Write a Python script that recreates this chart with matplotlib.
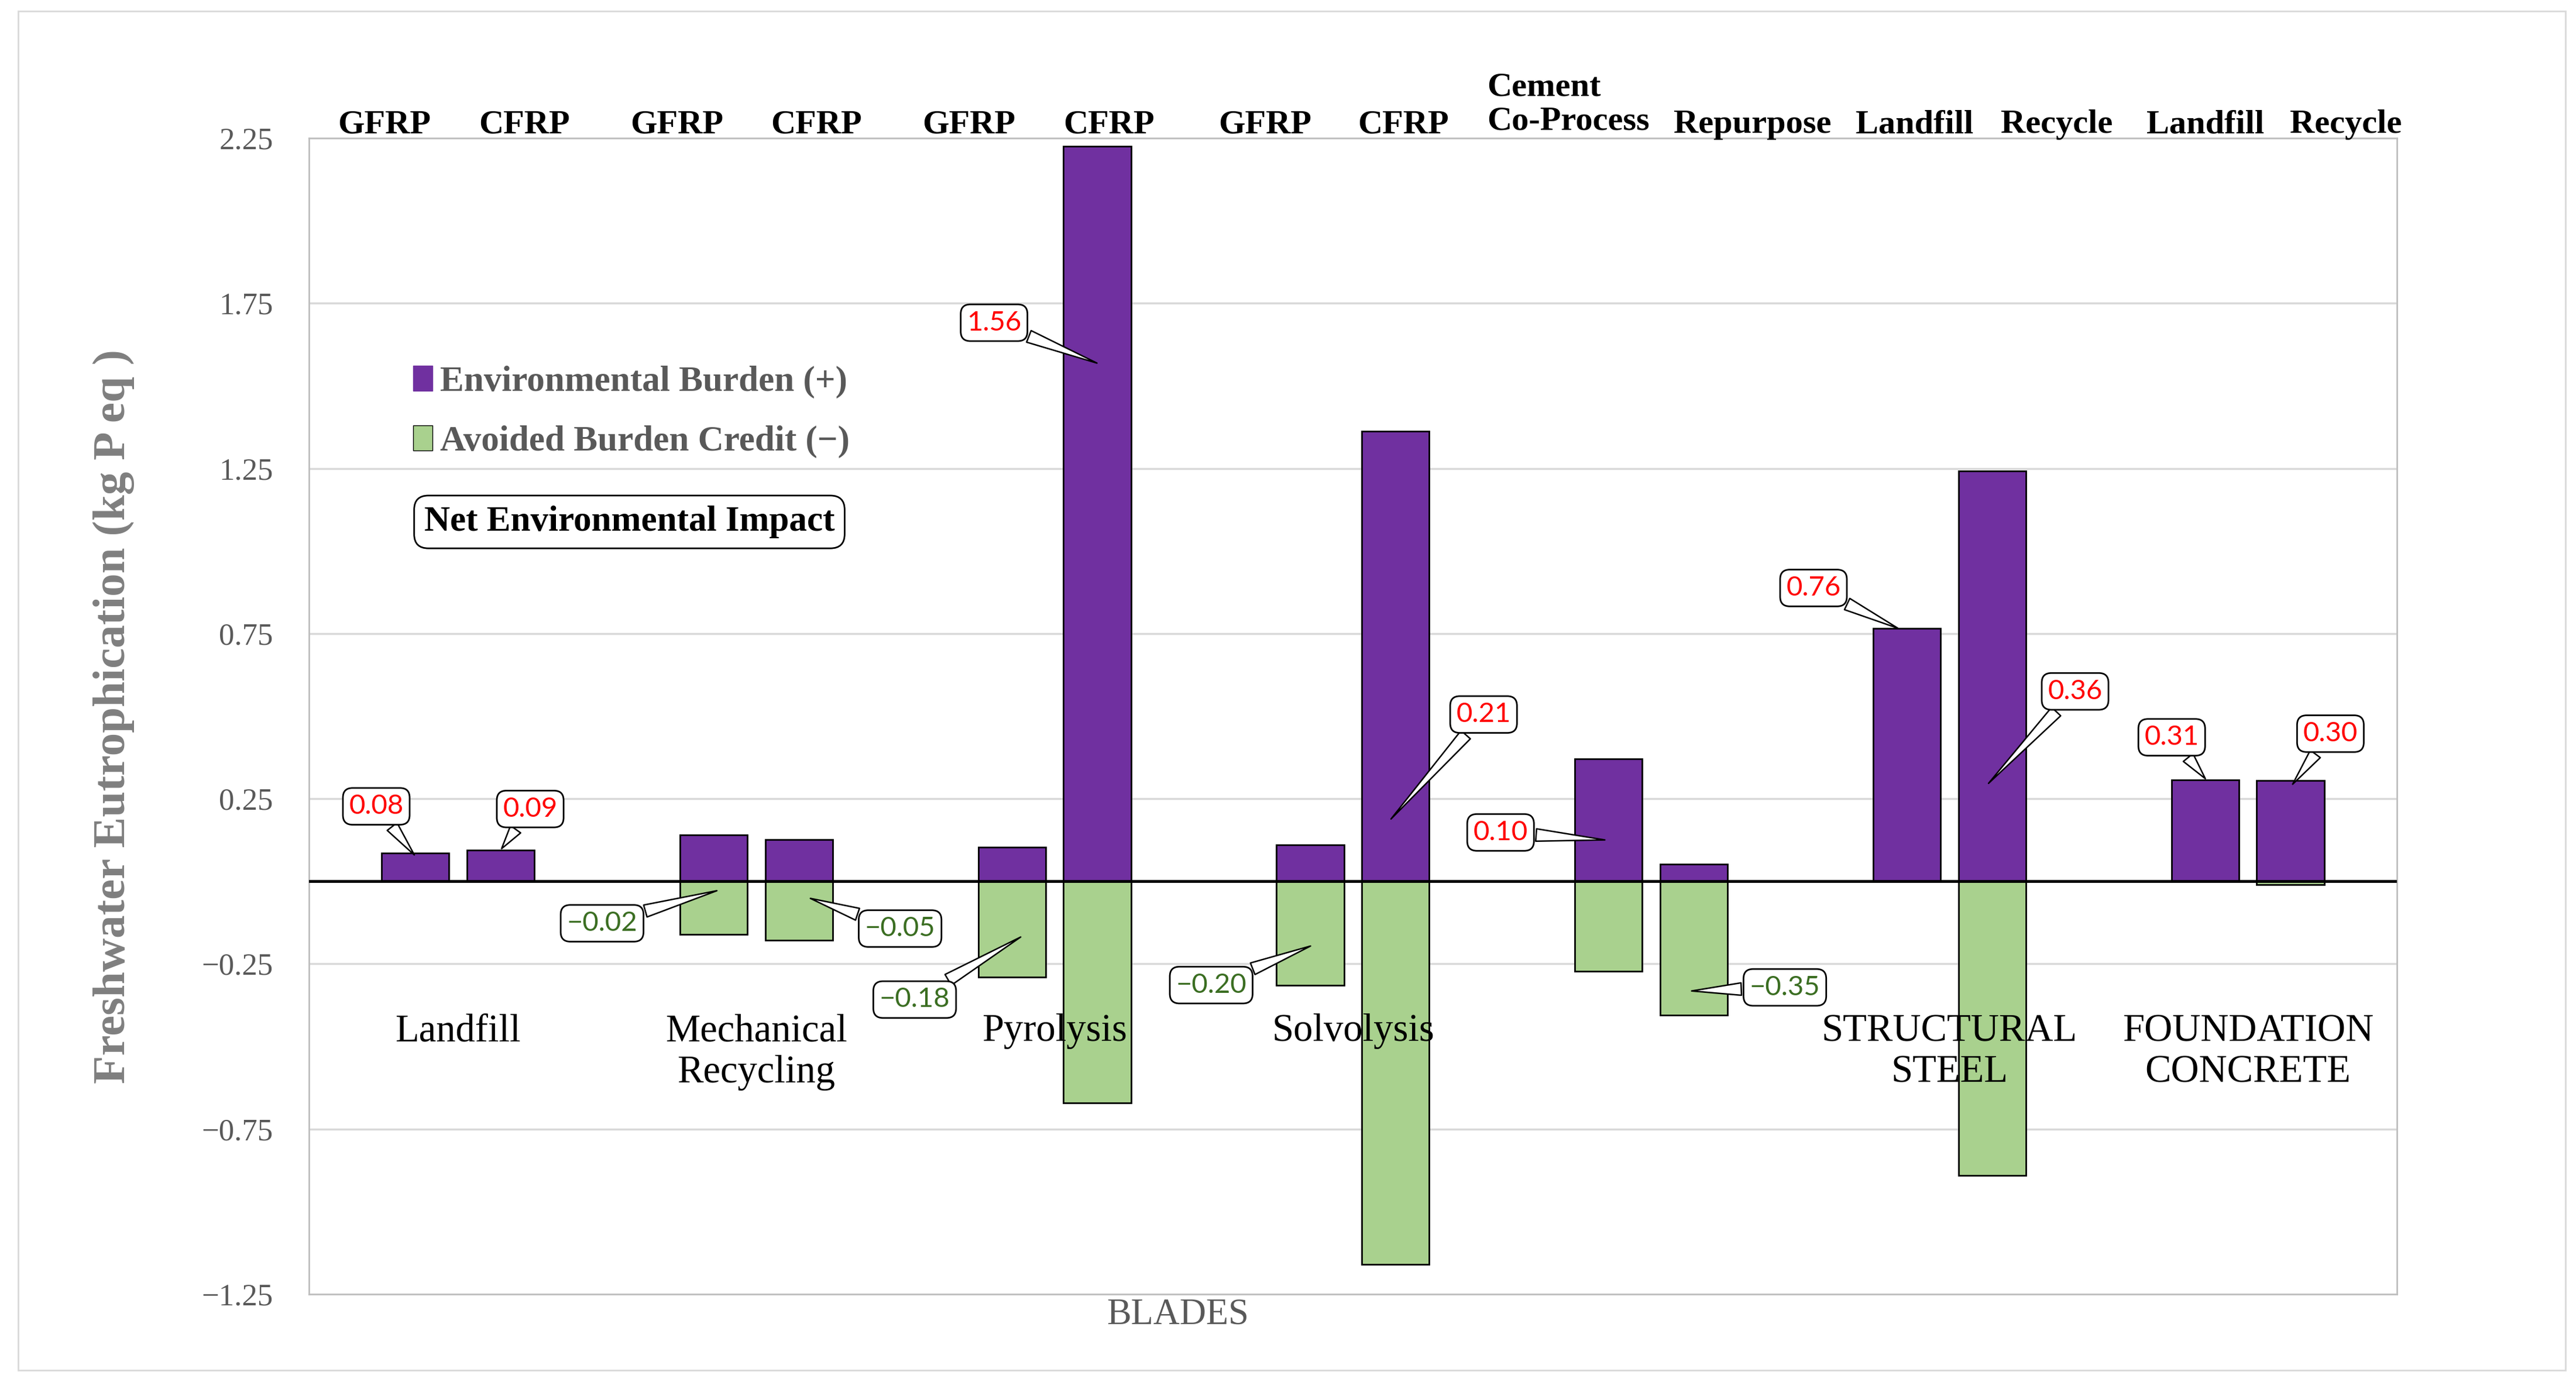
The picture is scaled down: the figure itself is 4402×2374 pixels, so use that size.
import numpy as np
import matplotlib.pyplot as plt
from matplotlib.patches import Patch, Rectangle

plt.rcParams['font.family'] = ['Liberation Serif', 'DejaVu Serif']

# ---- data ----
groups = ['Landfill', 'Mechanical\nRecycling', 'Pyrolysis', 'Solvolysis', '',
          'STRUCTURAL\nSTEEL', 'FOUNDATION\nCONCRETE']
options = ['GFRP', 'CFRP', 'GFRP', 'CFRP', 'GFRP', 'CFRP', 'GFRP', 'CFRP',
           'Cement\nCo-Process', 'Repurpose', 'Landfill', 'Recycle', 'Landfill', 'Recycle']
burden = [0.085, 0.095, 0.140, 0.127, 0.104, 2.225, 0.111, 1.363,
          0.371, 0.052, 0.766, 1.243, 0.307, 0.305]
credit = [0.0, 0.0, -0.161, -0.178, -0.290, -0.670, -0.315, -1.160,
          -0.273, -0.405, 0.0, -0.890, 0.0, -0.010]
net = [0.08, 0.09, -0.02, -0.05, -0.18, 1.56, -0.20, 0.21,
       0.10, -0.35, 0.76, 0.36, 0.31, 0.30]
yticks = [2.25, 1.75, 1.25, 0.75, 0.25, -0.25, -0.75, -1.25]

# ---- layout ----
top_dx = [-0.104, 0.079, -0.123, 0.058, -0.144, 0.039, -0.151, 0.026,
          -0.408, 0.197, 0.025, 0.217, 0.0, 0.186]
box_xy = [(0.226, 0.227), (0.742, 0.219), (0.983, -0.127), (1.982, -0.143),
          (2.031, -0.358), (2.297, 1.691), (3.025, -0.314), (3.938, 0.505),
          (3.995, 0.148), (4.948, -0.321), (5.044, 0.888), (5.921, 0.575),
          (6.245, 0.436), (6.777, 0.447)]
tip_xy = [(0.357, 0.076), (0.643, 0.095), (1.373, -0.027), (1.676, -0.05),
          (2.391, -0.166), (2.647, 1.567), (3.363, -0.194), (3.624, 0.185),
          (4.35, 0.125), (4.63, -0.332), (5.332, 0.764), (5.627, 0.293),
          (6.361, 0.307), (6.647, 0.29)]

purple = '#7030A0'
green = '#A9D18E'
gray = '#595959'

fig = plt.figure(figsize=(44.02, 23.74), dpi=100)
ax = fig.add_axes([0.1199, 0.0682, 0.8106, 0.8324])

group_x = np.arange(len(groups)) + 0.5
bar_x = np.repeat(group_x, 2) + np.tile([-0.143, 0.143], len(groups))

ax.bar(bar_x, burden, width=0.226, color=purple, edgecolor='black', linewidth=2, zorder=3)
ax.bar(bar_x, credit, width=0.226, color=green, edgecolor='black', linewidth=2, zorder=3)
ax.axhline(0, color='black', lw=3.5, zorder=4)

ax.set_xlim(0, 7)
ax.set_ylim(-1.25, 2.25)
ax.set_yticks(yticks)
ax.set_yticklabels([f'{v:.2f}'.replace('-', '\u2212') for v in yticks])
ax.tick_params(axis='y', length=0, pad=44, labelsize=38, labelcolor=gray)
ax.set_xticks([])
ax.grid(axis='y', color='#d9d9d9', lw=2.5, zorder=0)
for s in ax.spines.values():
    s.set_color('#bfbfbf')
    s.set_linewidth(2)

ax.set_ylabel('Freshwater Eutrophication (kg P eq )', fontsize=57, fontweight='bold',
              color='#7f7f7f')
ax.yaxis.set_label_coords(-0.0835, 0.5)

# option labels above the plot
for x, dx, lab in zip(bar_x, top_dx, options):
    if '\n' in lab:
        ax.text(x + dx, 2.45, lab, ha='left', va='top', fontsize=42,
                fontweight='bold', linespacing=1.15, clip_on=False)
    else:
        ax.text(x + dx, 2.336, lab, ha='center', va='top', fontsize=42,
                fontweight='bold', clip_on=False)

# group labels inside plot
for x, lab in zip(group_x, groups):
    ax.text(x, -0.40, lab, ha='center', va='top', fontsize=48, linespacing=1.2, zorder=5)

ax.text(2.912, -1.339, 'BLADES', ha='center', va='baseline', fontsize=45,
        color=gray, clip_on=False)

# net impact callouts
for v, (bx, by), (tx, ty) in zip(net, box_xy, tip_xy):
    txt = f'{v:.2f}'.replace('-', '\u2212')
    col = '#FF0000' if v > 0 else '#3B6E22'
    ax.annotate(txt, xy=(tx, ty), xytext=(bx, by), ha='center', va='center',
                fontsize=34, family=['Lato', 'DejaVu Sans'], color=col, zorder=6,
                bbox=dict(boxstyle='round,pad=0.22,rounding_size=0.35', fc='white',
                          ec='black', lw=2),
                arrowprops=dict(arrowstyle='wedge,tail_width=0.45,shrink_factor=0.5',
                                fc='white', ec='black', lw=1.8))

# legend
handles = [Patch(facecolor=purple, edgecolor=purple, label='Environmental Burden (+)'),
           Patch(facecolor=green, edgecolor='black', label='Avoided Burden Credit (\u2212)')]
leg = ax.legend(handles=handles, loc='upper left', bbox_to_anchor=(0.0499, 0.803),
                frameon=False, borderpad=0, borderaxespad=0, handlelength=0.55,
                handleheight=0.7, handletextpad=0.2, labelspacing=0.75,
                prop={'family': 'Liberation Serif', 'weight': 'bold', 'size': 44})
for t in leg.get_texts():
    t.set_color(gray)

ax.text(0.0552, 0.6604, 'Net Environmental Impact', transform=ax.transAxes,
        ha='left', va='baseline', fontsize=44, fontweight='bold', zorder=6,
        bbox=dict(boxstyle='round,pad=0.28,rounding_size=0.4', fc='white', ec='black', lw=2))

# chart area border
fig.add_artist(Rectangle((31 / 4402, 1 - 2342 / 2374), (4384 - 31) / 4402,
                         (2342 - 19) / 2374, transform=fig.transFigure,
                         fill=False, ec='#d9d9d9', lw=2))

fig.savefig('out.png', dpi=100, facecolor='white')
